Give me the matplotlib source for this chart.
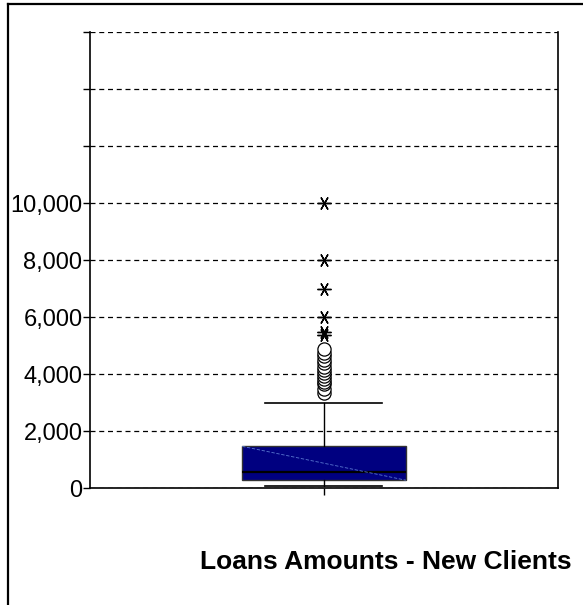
import matplotlib
matplotlib.use("Agg")
import matplotlib.pyplot as plt
from matplotlib.lines import Line2D
from matplotlib.ticker import FixedLocator, FuncFormatter

plt.rcParams['font.family'] = ['Liberation Sans', 'DejaVu Sans']

# ---- data ----
category = ["Loans Amounts - New Clients"]
q1 = 290
median = 570
q3 = 1480
whisker_low = 80
whisker_high = 3000
outliers = [3350, 3500, 3650, 3750, 3850, 3950, 4050, 4150, 4250, 4400, 4500, 4650, 4750, 4900]
extremes = [5400, 5500, 6000, 7000, 8000, 10000]
y_ticks = [0, 2000, 4000, 6000, 8000, 10000, 12000, 14000, 16000]
labelled_ticks = [0, 2000, 4000, 6000, 8000, 10000]

fig = plt.figure(figsize=(5.83, 6.05), dpi=100)
ax = fig.add_axes([0.1544, 0.1926, 0.957 - 0.1544, 0.9463 - 0.1926])

stats = [dict(med=median, q1=q1, q3=q3, whislo=whisker_low, whishi=whisker_high,
              fliers=outliers, label=category[0])]
ax.bxp(stats, positions=[1], widths=0.35, capwidths=0.25, patch_artist=True,
       boxprops=dict(facecolor='#000080', edgecolor='#333333', linewidth=1.0),
       medianprops=dict(color='black', linewidth=1.6),
       whiskerprops=dict(color='black', linewidth=1.0),
       capprops=dict(color='black', linewidth=1.2),
       flierprops=dict(marker='o', markerfacecolor='white', markeredgecolor='black',
                       markersize=9.5, markeredgewidth=0.9),
       zorder=3)
# diagonal shading artifact in the box
ax.plot([1 - 0.175, 1 + 0.175], [q3, q1], color='#5a78d0', lw=0.6,
        ls=(0, (4, 2)), zorder=4)
ax.plot([1] * len(extremes), extremes, ls='none', marker=(6, 2, 30),
        color='black', markersize=10, markeredgewidth=1.0, zorder=5)

ax.set_xlim(0.5, 1.5)
ax.set_ylim(0, 16000)
ax.yaxis.set_major_locator(FixedLocator(y_ticks))
ax.yaxis.set_major_formatter(FuncFormatter(
    lambda v, p: f"{int(v):,}" if v in labelled_ticks else ""))
ax.set_xticks([1])
ax.set_xticklabels([""])
ax.tick_params(axis='y', direction='out', length=5, width=1, labelsize=17, pad=0.5)
ax.tick_params(axis='x', direction='out', length=5, width=1)
ax.yaxis.grid(True, linestyle=(0, (4, 3)), color='black', linewidth=0.9)
ax.set_axisbelow(True)
for s in ax.spines.values():
    s.set_linewidth(1.2)
    s.set_color('black')
ax.spines['top'].set_visible(False)

fig.text(0.662, 0.071, category[0], ha='center', va='center',
         fontsize=19, fontweight='bold')

# outer frame
fig.add_artist(Line2D([7.5 / 583, 7.5 / 583], [0, 1 - 3.5 / 605], color='black', lw=1.6))
fig.add_artist(Line2D([7.5 / 583, 1], [1 - 3.5 / 605, 1 - 3.5 / 605], color='black', lw=1.6))

fig.savefig("out.png", dpi=100)
